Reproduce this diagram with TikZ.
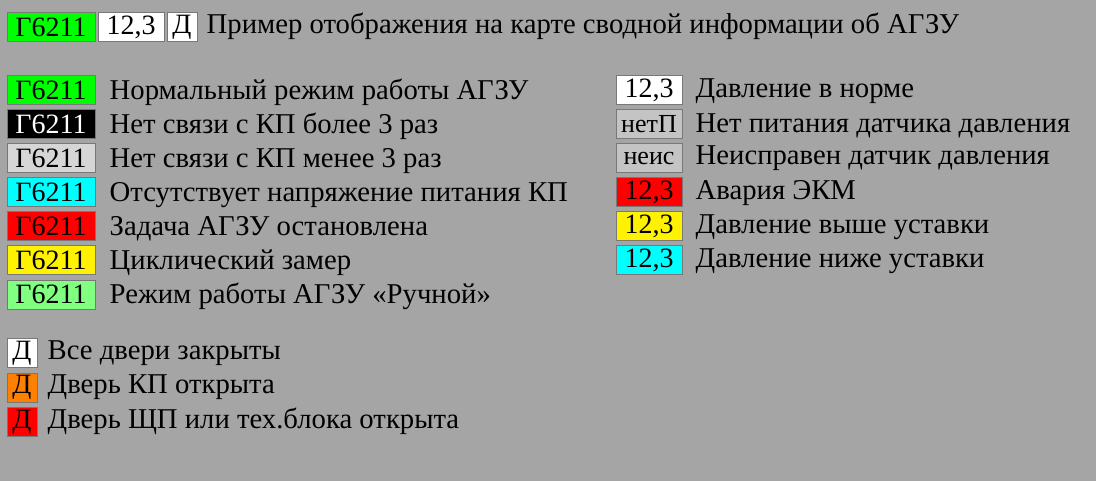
\documentclass[tikz,border=0pt]{standalone}
\usepackage{fontspec}
\setmainfont{Liberation Serif}
\usetikzlibrary{positioning}
\definecolor{bggray}{RGB}{164,165,164}
\definecolor{edgegray}{RGB}{120,120,120}
\definecolor{lightgray}{RGB}{214,214,214}
\definecolor{midgray}{RGB}{196,196,196}
\definecolor{palegreen}{RGB}{128,255,128}
\definecolor{doororange}{RGB}{255,128,0}
\definecolor{aqua}{RGB}{0,255,255}

\begin{document}
\begin{tikzpicture}[
    x=1pt,y=-1pt,
    font=\fontsize{28}{32}\selectfont,
    sw/.style={draw=edgegray,line width=1pt,minimum height=29pt,inner sep=0pt},
    code/.style={sw,minimum width=88pt},
    val/.style={sw,minimum width=66pt},
    door/.style={sw,minimum width=30pt},
    lbl/.style={inner sep=0pt,font=\fontsize{28.7}{32}\selectfont}
  ]
    \fill[bggray] (0,0) rectangle (1096,481);
    \useasboundingbox (0,0) rectangle (1096,481);

    % header line
    \node[code,fill=green] (hcode) at (51,27.5) {Г6211};
    \node[val,fill=white,right=2pt of hcode] (hval) {12,3};
    \node[door,fill=white,right=2pt of hval] (hdoor) {Д};
    \node[lbl,right=9pt of hdoor.base east,anchor=base west] (htext) {Пример отображения на карте сводной информации об АГЗУ};

    % modes of the station
    \foreach \i/\c/\f/\t in {
        1/green/black/Нормальный режим работы АГЗУ,
        2/black/white/Нет связи с КП более 3 раз,
        3/lightgray/black/Нет связи с КП менее 3 раз,
        4/aqua/black/Отсутствует напряжение питания КП,
        5/red/black/Задача АГЗУ остановлена,
        6/yellow/black/Циклический замер,
        7/palegreen/black/Режим работы АГЗУ «Ручной»} {
      \node[code,fill=\c,text=\f] (mode\i) at (51,{90+34.1*(\i-1)}) {Г6211};
      \node[lbl,right=14pt of mode\i.base east,anchor=base west] (modetext\i) {\t};
    }

    % pressure
    \foreach \i/\c/\v/\t in {
        1/white/{12,3}/Давление в норме,
        2/midgray/{\fontsize{26}{28}\selectfont нетП}/Нет питания датчика давления,
        3/midgray/{\fontsize{26}{28}\selectfont неис}/Неисправен датчик давления,
        4/red/{12,3}/Авария ЭКМ,
        5/yellow/{12,3}/Давление выше уставки,
        6/aqua/{12,3}/Давление ниже уставки} {
      \node[val,fill=\c] (pres\i) at (649,{90+34.1*(\i-1)}) {\v};
      \node[lbl,right=13pt of pres\i.base east,anchor=base west] (prestext\i) {\t};
    }

    % doors
    \foreach \i/\c/\t in {
        1/white/Все двери закрыты,
        2/doororange/Дверь КП открыта,
        3/red/Дверь ЩП или тех.блока открыта} {
      \node[door,fill=\c] (door\i) at (22,{353+34.5*(\i-1)}) {Д};
      \node[lbl,right=10pt of door\i.base east,anchor=base west] (doortext\i) {\t};
    }
  \end{tikzpicture}
\end{document}
